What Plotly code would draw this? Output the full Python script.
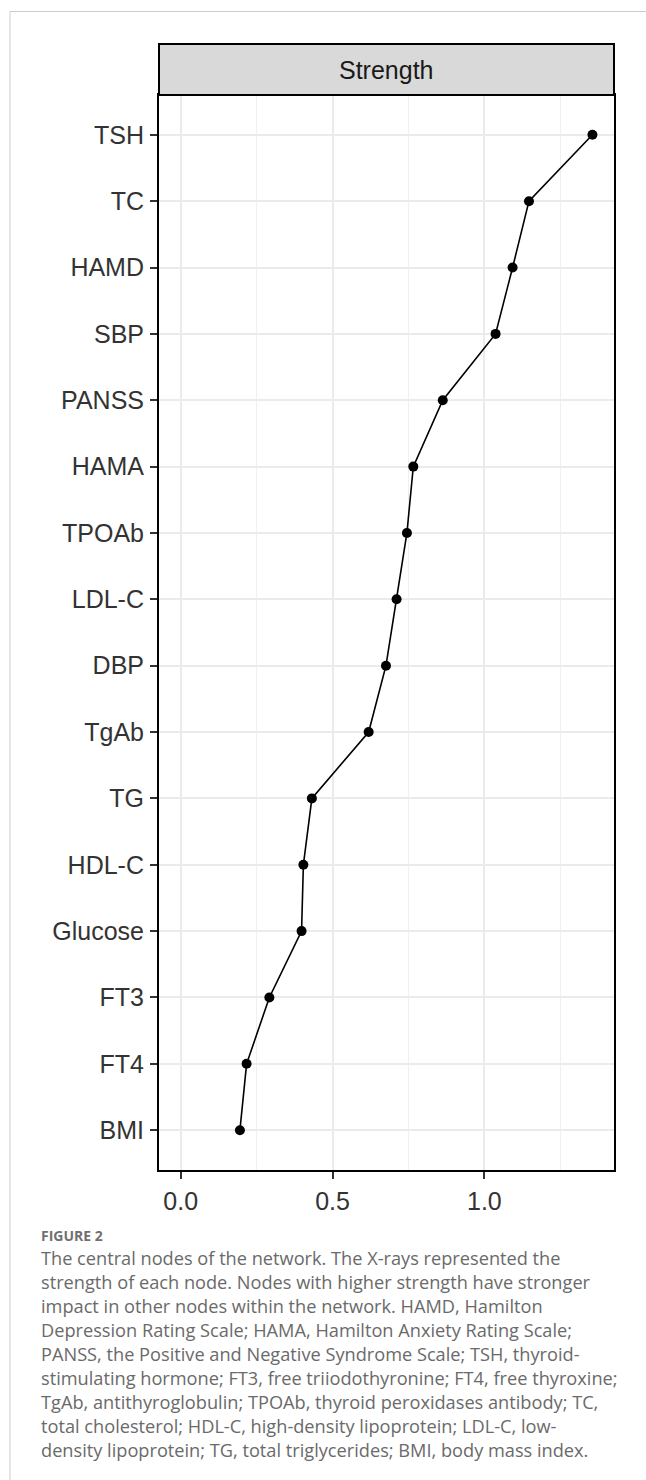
import plotly.graph_objects as go

nodes = ["TSH", "TC", "HAMD", "SBP", "PANSS", "HAMA", "TPOAb", "LDL-C",
         "DBP", "TgAb", "TG", "HDL-C", "Glucose", "FT3", "FT4", "BMI"]
strength = [1.356, 1.147, 1.093, 1.037, 0.863, 0.766, 0.745, 0.711,
            0.676, 0.619, 0.432, 0.404, 0.398, 0.292, 0.217, 0.195]
x_ticks = [0.0, 0.5, 1.0]
x_tick_labels = ["0.0", "0.5", "1.0"]
panel_title = "Strength"
fig_label = "FIGURE 2"
caption_lines = [
    "The central nodes of the network. The X-rays represented the",
    "strength of each node. Nodes with higher strength have stronger",
    "impact in other nodes within the network. HAMD, Hamilton",
    "Depression Rating Scale; HAMA, Hamilton Anxiety Rating Scale;",
    "PANSS, the Positive and Negative Syndrome Scale; TSH, thyroid-",
    "stimulating hormone; FT3, free triiodothyronine; FT4, free thyroxine;",
    "TgAb, antithyroglobulin; TPOAb, thyroid peroxidases antibody; TC,",
    "total cholesterol; HDL-C, high-density lipoprotein; LDL-C, low-",
    "density lipoprotein; TG, total triglycerides; BMI, body mass index.",
]

W, H = 646, 1480
L, R, T, B = 159, 614, 95, 1170
pw, ph = R - L, B - T


def px(x):
    return (x - L) / pw


def py(y):
    return (B - y) / ph


AX_FONT = "Liberation Sans, Arial, sans-serif"
CAP_FONT = "Open Sans, Noto Sans, sans-serif"

fig = go.Figure()
fig.add_trace(go.Scatter(
    x=strength, y=nodes, mode="lines+markers",
    line=dict(color="black", width=1.6),
    marker=dict(color="black", size=10),
    showlegend=False, hoverinfo="x+y",
))

fig.update_layout(
    width=W, height=H,
    margin=dict(l=L, r=W - R, t=T, b=H - B, autoexpand=False),
    paper_bgcolor="white", plot_bgcolor="white",
    font=dict(family=AX_FONT, color="#333333"),
    xaxis=dict(
        range=[-0.0715, 1.427], tickvals=x_ticks, ticktext=x_tick_labels,
        showgrid=True, gridcolor="#EBEBEB", gridwidth=1.8,
        minor=dict(dtick=0.25, tick0=0, showgrid=True, gridcolor="#F0F0F0", gridwidth=1),
        showline=True, linecolor="black", linewidth=2, mirror=True,
        ticks="outside", ticklen=7, tickwidth=2, tickcolor="#333333",
        tickfont=dict(size=25, color="#333333"), zeroline=False,
        ticklabelstandoff=1,
    ),
    yaxis=dict(
        type="category", categoryorder="array", categoryarray=nodes[::-1],
        range=[-0.6, len(nodes) - 0.4],
        showgrid=True, gridcolor="#EBEBEB", gridwidth=1.8,
        showline=True, linecolor="black", linewidth=2, mirror=True,
        ticks="outside", ticklen=7, tickwidth=2, tickcolor="#333333",
        tickfont=dict(size=25, color="#333333"), zeroline=False,
        ticklabelstandoff=1,
    ),
)

# strip header
fig.add_shape(type="rect", xref="paper", yref="paper",
              x0=0, x1=1, y0=1, y1=py(44),
              fillcolor="#D9D9D9", line=dict(color="black", width=2), layer="above")
fig.add_annotation(xref="paper", yref="paper", x=0.5, y=py(70), text=panel_title,
                   showarrow=False, xanchor="center", yanchor="middle",
                   font=dict(size=25, color="#1a1a1a", family=AX_FONT))

# page border lines (card)
fig.add_shape(type="line", xref="paper", yref="paper",
              x0=px(10), x1=px(646), y0=py(11.5), y1=py(11.5),
              line=dict(color="#CCCCCC", width=1))
fig.add_shape(type="line", xref="paper", yref="paper",
              x0=px(10), x1=px(10), y0=py(11.5), y1=py(1480),
              line=dict(color="#CCCCCC", width=1))

# caption
fig.add_annotation(xref="paper", yref="paper", x=px(39), y=py(1235), text="<b>" + fig_label + "</b>",
                   showarrow=False, xanchor="left", yanchor="middle",
                   font=dict(size=14, color="#707070", family=CAP_FONT))
for i, line in enumerate(caption_lines):
    fig.add_annotation(xref="paper", yref="paper", x=px(39), y=py(1258 + 24 * i), text=line,
                       showarrow=False, xanchor="left", yanchor="middle",
                       font=dict(size=18.2, color="#6a6a6a", family=CAP_FONT))

fig.write_html("out.html",
               config={"displayModeBar": False},
               post_script="document.body.style.margin='0';document.body.style.overflow='hidden';")
